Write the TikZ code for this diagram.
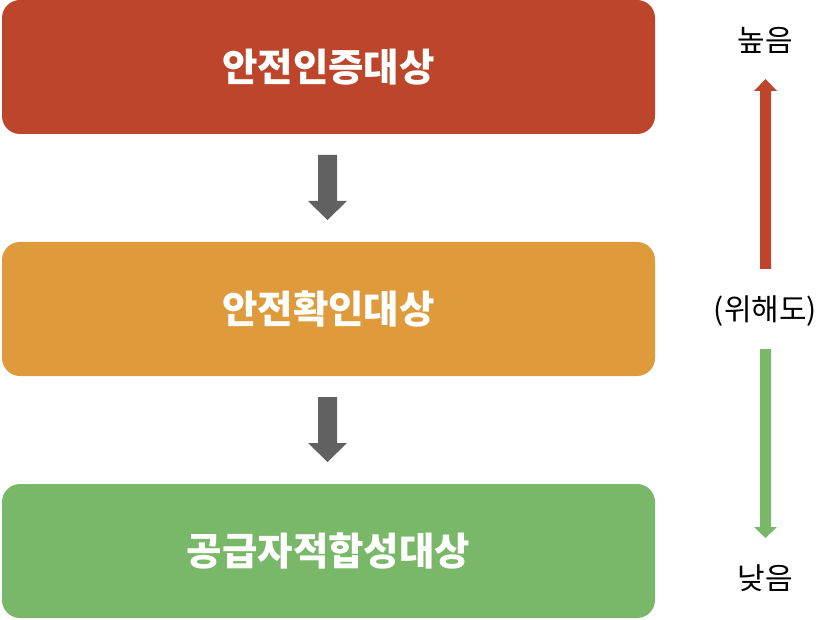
\documentclass[tikz,border=0pt]{standalone}
\usepackage{fontspec}
\setmainfont{Noto Sans CJK KR}
\definecolor{cred}{HTML}{BD452B}
\definecolor{corange}{HTML}{DE9A3B}
\definecolor{cgreen}{HTML}{79B769}
\definecolor{cgray}{HTML}{616161}
\begin{document}
\begin{tikzpicture}[x=1pt,y=-1pt,
  levelbox/.style={rounded corners=18pt, minimum width=653pt, minimum height=134pt, inner sep=0pt, text=white, font=\fontsize{38.5}{44}\selectfont\bfseries},
  side/.style={font=\fontsize{30}{36}\selectfont, text=black, inner sep=0pt}]
\useasboundingbox (0,0) rectangle (822,620);
\node[levelbox, fill=cred] (b1) at (328.5,67) {안전인증대상};
\node[levelbox, fill=corange] (b2) at (328.5,309) {안전확인대상};
\node[levelbox, fill=cgreen] (b3) at (328.5,551) {공급자적합성대상};
% gray block arrows
\fill[cgray] (318,155) -- (337,155) -- (337,201) -- (347,201) -- (327.5,220) -- (308,201) -- (318,201) -- cycle;
\fill[cgray] (318,397) -- (337,397) -- (337,443) -- (347,443) -- (327.5,462) -- (308,443) -- (318,443) -- cycle;
% right scale
\node[side] (hi) at (765.5,40) {높음};
\node[side] (mid) at (765.5,311) {(위해도)};
\node[side] (lo) at (765.5,578) {낮음};
\fill[cred] (760,269) -- (771,269) -- (771,91) -- (777,91) -- (765.5,79) -- (754,91) -- (760,91) -- cycle;
\fill[cgreen] (760,349) -- (771,349) -- (771,527) -- (777,527) -- (765.5,538) -- (754,527) -- (760,527) -- cycle;
\end{tikzpicture}
\end{document}
